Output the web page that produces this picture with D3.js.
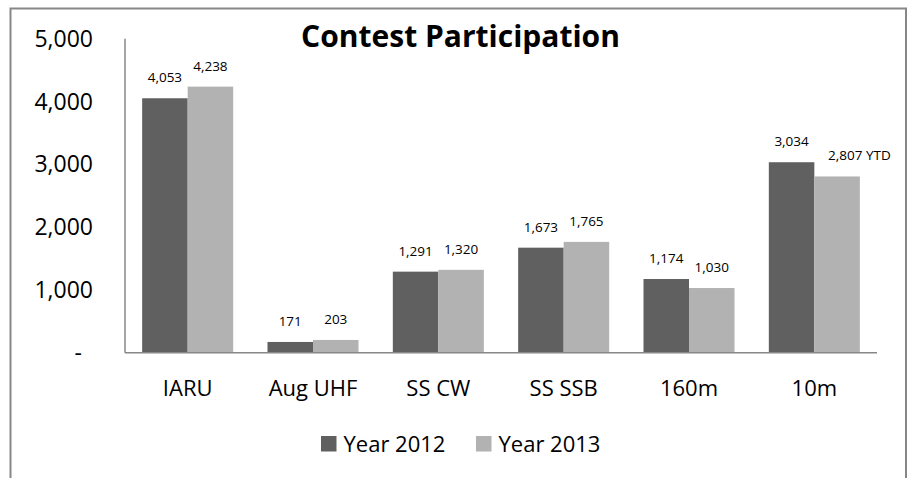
<!DOCTYPE html>
<html>
  <head>
    <meta charset="utf-8">
    <script src="https://cdnjs.cloudflare.com/ajax/libs/d3/7.8.5/d3.min.js"></script>
<style>
  body {
      margin: 0;
      background: #ffffff;
  }
  text {
      font-family: "Open Sans", sans-serif;
      fill: #000000;
  }
</style>
  </head>
  <body>
    <div id="vis"></div>
    <script type="text/javascript">

        // chart data
        var categories = ["IARU", "Aug UHF", "SS CW", "SS SSB", "160m", "10m"];
        var seriesNames = ["Year 2012", "Year 2013"];
        var year2012 = [4053, 171, 1291, 1673, 1174, 3034];
        var year2013 = [4238, 203, 1320, 1765, 1030, 2807];
        var labelSuffix2013 = ["", "", "", "", "", " YTD"];
        var yTicks = [0, 1000, 2000, 3000, 4000, 5000];
        var title = "Contest Participation";

        var w = 911;
        var h = 478;
        var colors = ["#606060", "#b2b2b2"];
        var plot = {left: 125, right: 877, top: 38.8, bottom: 352.7};

        const svg = d3.select("#vis")
            .append("svg")
            .attr("width", w)
            .attr("height", h)
            .attr("viewBox", [0, 0, w, h]);

        // outer chart frame (bottom edge falls outside the picture)
        svg.append("rect")
            .attr("x", 10.5)
            .attr("y", 8.5)
            .attr("width", 895.5)
            .attr("height", 500)
            .attr("fill", "none")
            .attr("stroke", "#878787")
            .attr("stroke-width", 2);

        var xScale = d3.scaleBand().domain(categories).range([plot.left, plot.right]).padding(0);
        var xInner = d3.scaleBand().domain(seriesNames).range([0, xScale.bandwidth()])
            .paddingInner(0).paddingOuter(0.377);
        var yScale = d3.scaleLinear().domain([0, 5000]).range([plot.bottom, plot.top]);
        var fmt = d3.format(",");

        var rows = categories.map((c, i) => ({
            cat: c,
            vals: [
                {s: seriesNames[0], v: year2012[i], label: fmt(year2012[i]), suffix: ""},
                {s: seriesNames[1], v: year2013[i], label: fmt(year2013[i]), suffix: labelSuffix2013[i]}
            ]
        }));

        // y tick labels (no gridlines in the original)
        svg.append("g")
            .selectAll("text")
            .data(yTicks)
            .join("text")
            .attr("x", d => d == 0 ? 82 : 93)
            .attr("y", d => yScale(d))
            .attr("dy", "0.35em")
            .attr("text-anchor", "end")
            .style("font-size", "23px")
            .text(d => d == 0 ? "-" : fmt(d));

        // bars
        var groups = svg.append("g")
            .selectAll("g")
            .data(rows)
            .join("g")
            .attr("transform", d => "translate(" + xScale(d.cat) + ",0)");

        groups.selectAll("rect")
            .data(d => d.vals)
            .join("rect")
            .attr("x", d => xInner(d.s))
            .attr("y", d => yScale(d.v))
            .attr("width", xInner.bandwidth())
            .attr("height", d => yScale(0) - yScale(d.v))
            .attr("fill", (d, i) => colors[i]);

        // data labels
        groups.selectAll("text")
            .data(d => d.vals)
            .join("text")
            .attr("x", d => xInner(d.s) + xInner.bandwidth() / 2 + (d.suffix ? -9 : 0))
            .attr("y", d => yScale(d.v) - 16)
            .attr("text-anchor", d => d.suffix ? "start" : "middle")
            .style("font-size", "13.5px")
            .text(d => d.label + d.suffix);

        // axis lines
        svg.append("line")
            .attr("x1", plot.left).attr("x2", plot.left)
            .attr("y1", plot.top).attr("y2", plot.bottom)
            .attr("stroke", "#878787").attr("stroke-width", 1.5);
        svg.append("line")
            .attr("x1", plot.left).attr("x2", plot.right)
            .attr("y1", plot.bottom).attr("y2", plot.bottom)
            .attr("stroke", "#878787").attr("stroke-width", 1.5);

        // category labels
        svg.append("g")
            .selectAll("text")
            .data(categories)
            .join("text")
            .attr("x", d => xScale(d) + xScale.bandwidth() / 2)
            .attr("y", 395.7)
            .attr("text-anchor", "middle")
            .style("font-size", "22px")
            .text(d => d);

        // title
        svg.append("text")
            .attr("x", 460.5)
            .attr("y", 47.3)
            .attr("text-anchor", "middle")
            .style("font-size", "30px")
            .style("font-weight", "bold")
            .text(title);

        // legend
        var legendX = [321, 476];
        var legend = svg.append("g")
            .selectAll("g")
            .data(seriesNames)
            .join("g")
            .attr("transform", (d, i) => "translate(" + legendX[i] + ",436)");
        legend.append("rect")
            .attr("width", 15.5)
            .attr("height", 15.5)
            .attr("fill", (d, i) => colors[i]);
        legend.append("text")
            .attr("x", 22.5)
            .attr("y", 15.7)
            .style("font-size", "22px")
            .text(d => d);

    </script>
  </body>
</html>
